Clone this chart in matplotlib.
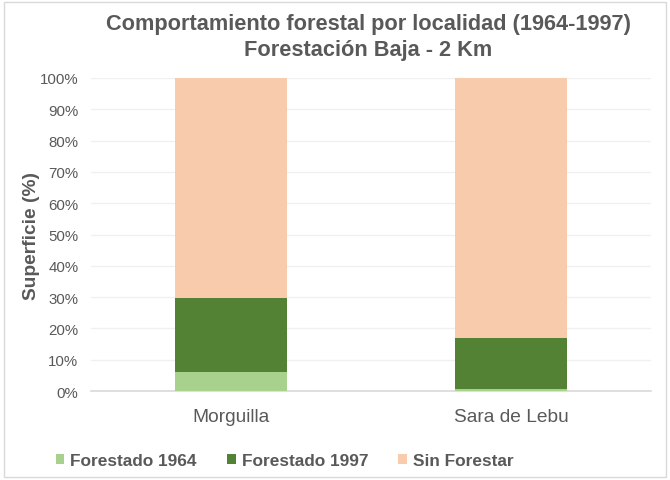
import numpy as np
import matplotlib
matplotlib.use('Agg')
import matplotlib.pyplot as plt
from matplotlib.patches import Rectangle
from matplotlib.ticker import PercentFormatter

# Data (percent of surface)
localidades = ['Morguilla', 'Sara de Lebu']
forestado_1964 = [6.1, 0.5]
forestado_1997 = [23.6, 16.5]
sin_forestar = [100 - a - b for a, b in zip(forestado_1964, forestado_1997)]

series = ['Forestado 1964', 'Forestado 1997', 'Sin Forestar']
colors = ['#A9D18E', '#548235', '#F8CBAD']
gray = '#595959'

plt.rcParams['font.family'] = ['Liberation Sans', 'DejaVu Sans']

fig = plt.figure(figsize=(6.7, 4.81), dpi=100)
fig.patches.append(Rectangle((0.006, 0.006), 0.988, 0.988, transform=fig.transFigure,
                             fill=False, edgecolor='#D9D9D9', linewidth=1))
ax = fig.add_axes([91 / 670, 1 - 392 / 481, 560 / 670, 313 / 481])

x = np.arange(len(localidades))
bottom = np.zeros(len(localidades))
for name, vals, c in zip(series, [forestado_1964, forestado_1997, sin_forestar], colors):
    ax.bar(x, vals, width=0.4, bottom=bottom, color=c, label=name, zorder=3)
    bottom += np.array(vals)

ax.set_xlim(-0.5, 1.5)
ax.set_ylim(0, 100)
ax.set_yticks(np.arange(0, 101, 10))
ax.yaxis.set_major_formatter(PercentFormatter(decimals=0))
ax.set_xticks(x)
ax.set_xticklabels(localidades, fontsize=13.8, color=gray)
ax.tick_params(axis='y', labelsize=10.8, colors=gray, length=0, pad=9)
ax.tick_params(axis='x', length=0, pad=12)
ax.grid(axis='y', color='#F0F0F0', linewidth=1, zorder=0)
for s in ['top', 'right', 'left']:
    ax.spines[s].set_visible(False)
ax.spines['bottom'].set_color('#D9D9D9')
ax.spines['bottom'].set_linewidth(1.2)

ax.set_ylabel('Superficie (%)', fontsize=13.8, fontweight='bold', color=gray, labelpad=0)
fig.text(0.55, 0.949, 'Comportamiento forestal por localidad (1964-1997)',
         ha='center', va='center', fontsize=15.7, fontweight='bold', color=gray)
fig.text(0.55, 0.896, 'Forestación Baja - 2 Km',
         ha='center', va='center', fontsize=15.7, fontweight='bold', color=gray)

leg = fig.legend(loc='center', bbox_to_anchor=(0.425, 0.041), ncol=3, frameon=False,
                 handlelength=0.5, handleheight=0.5, handletextpad=0.35, columnspacing=1.75,
                 prop={'size': 12.4, 'weight': 'bold'})
for t in leg.get_texts():
    t.set_color(gray)

fig.savefig('out.png', dpi=100)
